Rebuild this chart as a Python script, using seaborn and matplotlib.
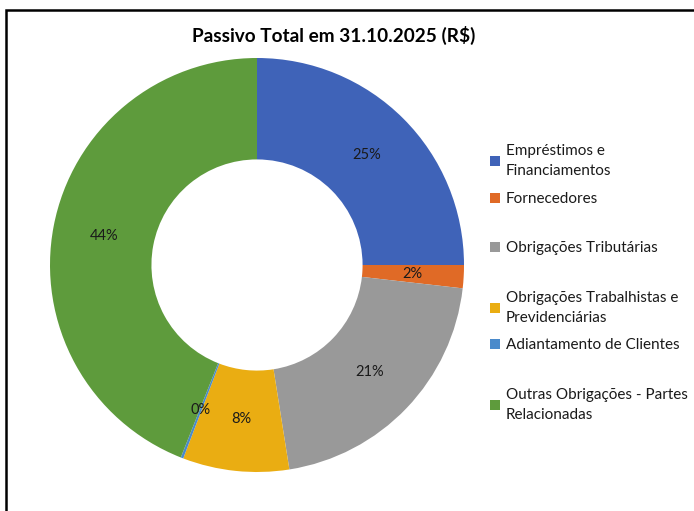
import matplotlib.pyplot as plt
import matplotlib.patches as mpatches
import seaborn as sns

# data (share of total liabilities, %)
categories = ['Empréstimos e\nFinanciamentos', 'Fornecedores', 'Obrigações Tributárias',
              'Obrigações Trabalhistas e\nPrevidenciárias', 'Adiantamento de Clientes',
              'Outras Obrigações - Partes\nRelacionadas']
shares = [25.0, 1.8, 20.7, 8.3, 0.2, 44.0]
colors = ['#3F63B8', '#E06A26', '#999999', '#EAAD12', '#4A8ACB', '#5E9B3C']
title = 'Passivo Total em 31.10.2025 (R$)'

sns.set_theme(style='white')
plt.rcParams['font.family'] = ['Lato', 'DejaVu Sans']

fig = plt.figure(figsize=(6.94, 5.11), dpi=100)
ax = fig.add_axes([50 / 694, 1 - 472 / 511, 414 / 694, 414 / 511])

wedges, texts, autotexts = ax.pie(
    shares, colors=colors, startangle=90, counterclock=False,
    autopct='%.0f%%', pctdistance=0.75,
    wedgeprops=dict(width=0.49, edgecolor='none'),
    textprops=dict(fontsize=10.5, color='#1a1a1a'))
ax.set_aspect('equal')
ax.set_xlim(-1, 1)
ax.set_ylim(-1, 1)

fig.text(334 / 694, 1 - 35 / 511, title, ha='center', va='center',
         fontsize=13.7, fontweight='bold', color='black')

# legend entries, one per row at Excel-like positions
rows_y = [161, 199, 248, 308, 345, 405]
for w, lab, y in zip(wedges, categories, rows_y):
    h = mpatches.Patch(facecolor=w.get_facecolor(), edgecolor='none')
    leg = fig.legend([h], [lab], loc='center left', bbox_to_anchor=(490 / 694, 1 - y / 511),
                     frameon=False, fontsize=11, handlelength=0.65, handleheight=0.65,
                     handletextpad=0.4, borderpad=0, borderaxespad=0)
    for t in leg.get_texts():
        t.set_linespacing(1.6)
        t.set_color('#1a1a1a')

# chart frame (runs off the right and bottom edges)
frame = mpatches.Rectangle((6 / 694, -0.1), 1.2, 1 - 10 / 511 + 0.1,
                           transform=fig.transFigure, fill=False,
                           edgecolor='black', linewidth=1.8, clip_on=False)
fig.patches.append(frame)

fig.savefig('out.png', dpi=100)
